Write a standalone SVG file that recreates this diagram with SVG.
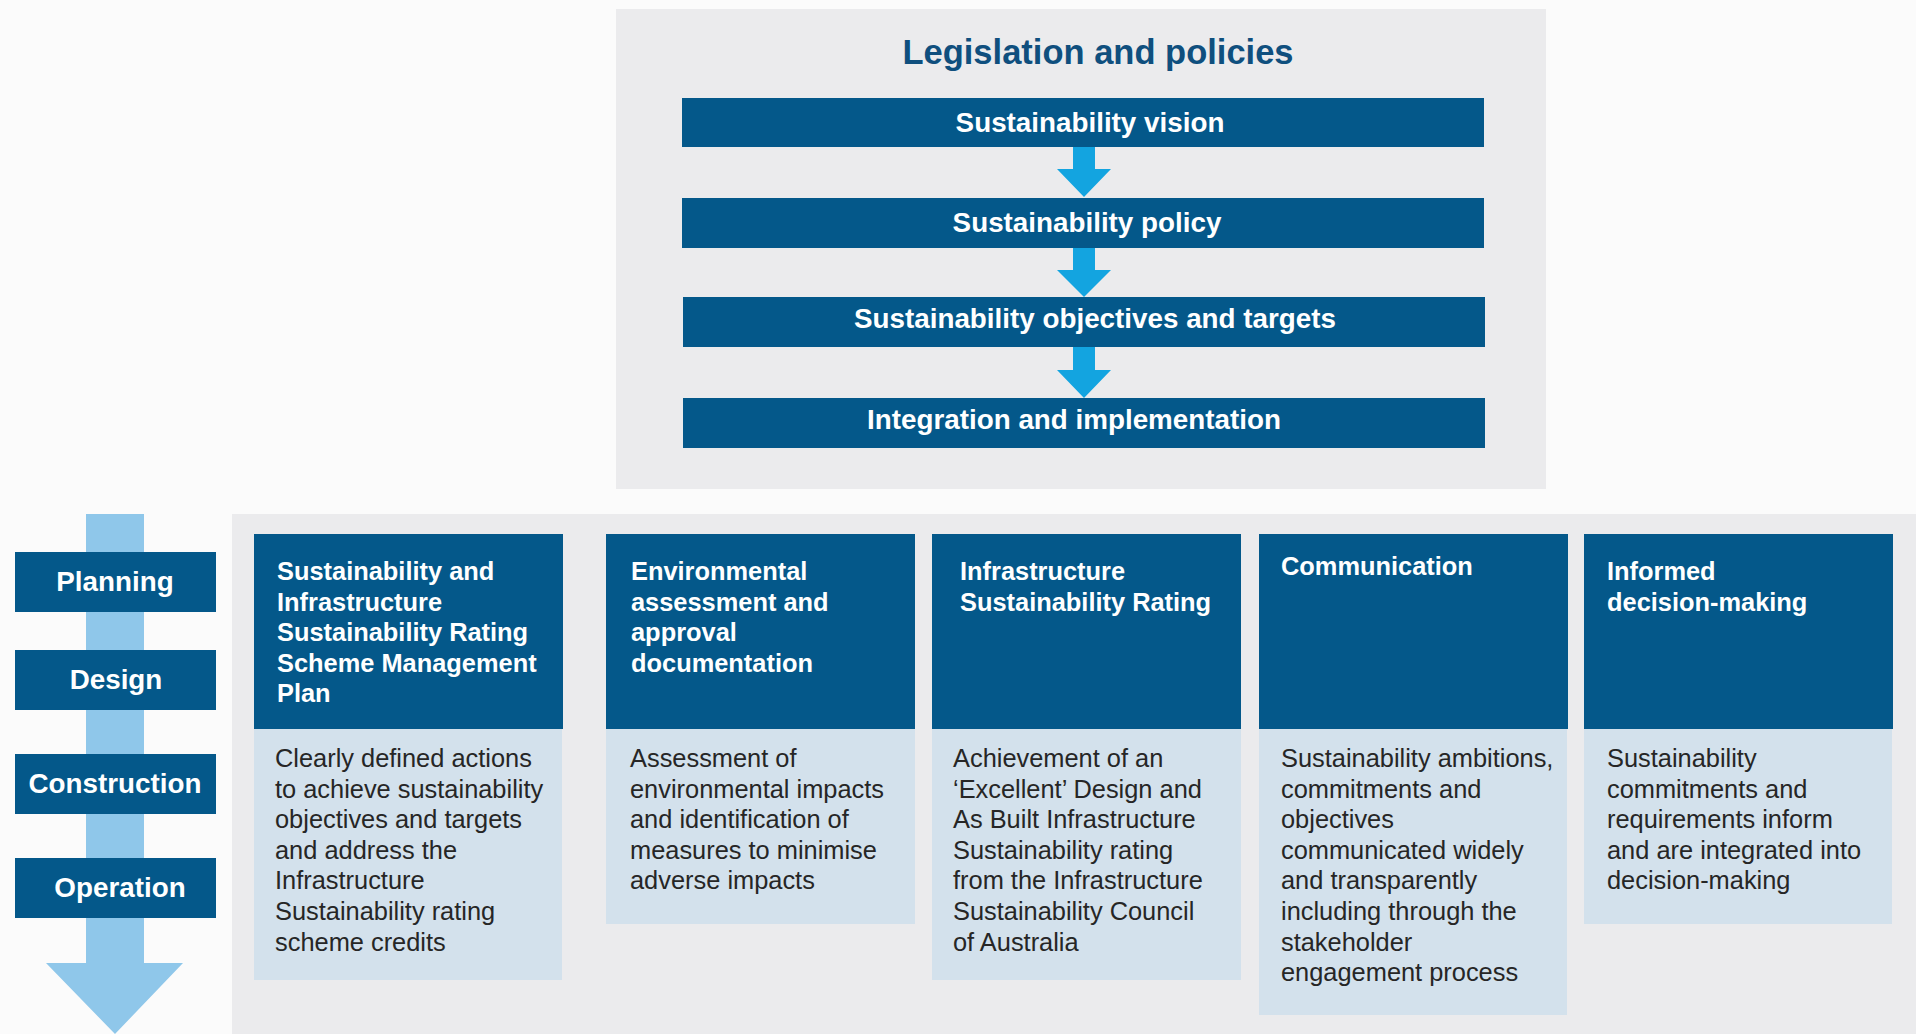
<svg xmlns="http://www.w3.org/2000/svg" width="1916" height="1034" viewBox="0 0 1916 1034">
<style>
.bg{fill:#fbfbfb}
.panel{fill:#ebebed}
.dark{fill:#04588a}
.light{fill:#d3e1ec}
.title{font-family:"Liberation Sans",Arial,sans-serif;font-weight:bold;font-size:34.5px;fill:#0f4f7e}
.bar{font-family:"Liberation Sans",Arial,sans-serif;font-weight:bold;font-size:27.8px;fill:#ffffff;text-anchor:middle}
.phase{font-family:"Liberation Sans",Arial,sans-serif;font-weight:bold;font-size:27.8px;fill:#ffffff;text-anchor:middle}
.head{font-family:"Liberation Sans",Arial,sans-serif;font-weight:bold;font-size:25.4px;fill:#ffffff}
.body{font-family:"Liberation Sans",Arial,sans-serif;font-size:25.4px;fill:#262626}
.flow{fill:#13a4e0}
.life{fill:#8fc7ea}
</style>
<rect class="bg" x="0" y="0" width="1916" height="1034"/>

<g id="top-panel">
<rect class="panel" x="616" y="9" width="930" height="480"/>
<text class="title" x="1098" y="64" text-anchor="middle">Legislation and policies</text>
</g>

<g id="connectors">
<polygon class="flow" points="1073,147 1095,147 1095,169 1111,169 1084,197 1057,169 1073,169"/>
<polygon class="flow" points="1073,248 1095,248 1095,270 1111,270 1084,297 1057,270 1073,270"/>
<polygon class="flow" points="1073,347 1095,347 1095,370 1111,370 1084,398 1057,370 1073,370"/>
</g>

<g id="vision">
<rect class="dark" x="682" y="98" width="802" height="49"/>
<text class="bar" x="1090" y="132">Sustainability vision</text>
</g>
<g id="policy">
<rect class="dark" x="682" y="198" width="802" height="50"/>
<text class="bar" x="1087" y="232">Sustainability policy</text>
</g>
<g id="objectives">
<rect class="dark" x="683" y="297" width="802" height="50"/>
<text class="bar" x="1095" y="328">Sustainability objectives and targets</text>
</g>
<g id="integration">
<rect class="dark" x="683" y="398" width="802" height="50"/>
<text class="bar" x="1074" y="429">Integration and implementation</text>
</g>

<g id="bottom-panel">
<rect class="panel" x="232" y="514" width="1684" height="520"/>
</g>

<g id="lifecycle-arrow">
<polygon class="life" points="86,514 144,514 144,963 183,963 115,1034 46,963 86,963"/>
</g>

<g id="planning">
<rect class="dark" x="15" y="552" width="201" height="60"/>
<text class="phase" x="115" y="591">Planning</text>
</g>
<g id="design">
<rect class="dark" x="15" y="650" width="201" height="60"/>
<text class="phase" x="116" y="689">Design</text>
</g>
<g id="construction">
<rect class="dark" x="15" y="754" width="201" height="60"/>
<text class="phase" x="115" y="793">Construction</text>
</g>
<g id="operation">
<rect class="dark" x="15" y="858" width="201" height="60"/>
<text class="phase" x="120" y="897">Operation</text>
</g>

<g id="col-management-plan">
<rect class="light" x="254" y="729" width="308" height="251"/>
<rect class="dark" x="254" y="534" width="309" height="195"/>
<text class="head" x="277" y="580"><tspan x="277">Sustainability and</tspan><tspan x="277" dy="30.5">Infrastructure</tspan><tspan x="277" dy="30.5">Sustainability Rating</tspan><tspan x="277" dy="30.5">Scheme Management</tspan><tspan x="277" dy="30.5">Plan</tspan></text>
<text class="body" x="275" y="767"><tspan x="275">Clearly defined actions</tspan><tspan x="275" dy="30.6">to achieve sustainability</tspan><tspan x="275" dy="30.6">objectives and targets</tspan><tspan x="275" dy="30.6">and address the</tspan><tspan x="275" dy="30.6">Infrastructure</tspan><tspan x="275" dy="30.6">Sustainability rating</tspan><tspan x="275" dy="30.6">scheme credits</tspan></text>
</g>

<g id="col-environmental">
<rect class="light" x="606" y="729" width="309" height="195"/>
<rect class="dark" x="606" y="534" width="309" height="195"/>
<text class="head" x="631" y="580"><tspan x="631">Environmental</tspan><tspan x="631" dy="30.5">assessment and</tspan><tspan x="631" dy="30.5">approval</tspan><tspan x="631" dy="30.5">documentation</tspan></text>
<text class="body" x="630" y="767"><tspan x="630">Assessment of</tspan><tspan x="630" dy="30.6">environmental impacts</tspan><tspan x="630" dy="30.6">and identification of</tspan><tspan x="630" dy="30.6">measures to minimise</tspan><tspan x="630" dy="30.6">adverse impacts</tspan></text>
</g>

<g id="col-rating">
<rect class="light" x="932" y="729" width="309" height="251"/>
<rect class="dark" x="932" y="534" width="309" height="195"/>
<text class="head" x="960" y="580"><tspan x="960">Infrastructure</tspan><tspan x="960" dy="30.5">Sustainability Rating</tspan></text>
<text class="body" x="953" y="767"><tspan x="953">Achievement of an</tspan><tspan x="953" dy="30.6">‘Excellent’ Design and</tspan><tspan x="953" dy="30.6">As Built Infrastructure</tspan><tspan x="953" dy="30.6">Sustainability rating</tspan><tspan x="953" dy="30.6">from the Infrastructure</tspan><tspan x="953" dy="30.6">Sustainability Council</tspan><tspan x="953" dy="30.6">of Australia</tspan></text>
</g>

<g id="col-communication">
<rect class="light" x="1259" y="729" width="308" height="286"/>
<rect class="dark" x="1259" y="534" width="309" height="195"/>
<text class="head" x="1281" y="575">Communication</text>
<text class="body" x="1281" y="767"><tspan x="1281">Sustainability ambitions,</tspan><tspan x="1281" dy="30.6">commitments and</tspan><tspan x="1281" dy="30.6">objectives</tspan><tspan x="1281" dy="30.6">communicated widely</tspan><tspan x="1281" dy="30.6">and transparently</tspan><tspan x="1281" dy="30.6">including through the</tspan><tspan x="1281" dy="30.6">stakeholder</tspan><tspan x="1281" dy="30.6">engagement process</tspan></text>
</g>

<g id="col-decision-making">
<rect class="light" x="1584" y="729" width="308" height="195"/>
<rect class="dark" x="1584" y="534" width="309" height="195"/>
<text class="head" x="1607" y="580"><tspan x="1607">Informed</tspan><tspan x="1607" dy="30.5">decision-making</tspan></text>
<text class="body" x="1607" y="767"><tspan x="1607">Sustainability</tspan><tspan x="1607" dy="30.6">commitments and</tspan><tspan x="1607" dy="30.6">requirements inform</tspan><tspan x="1607" dy="30.6">and are integrated into</tspan><tspan x="1607" dy="30.6">decision-making</tspan></text>
</g>
</svg>
